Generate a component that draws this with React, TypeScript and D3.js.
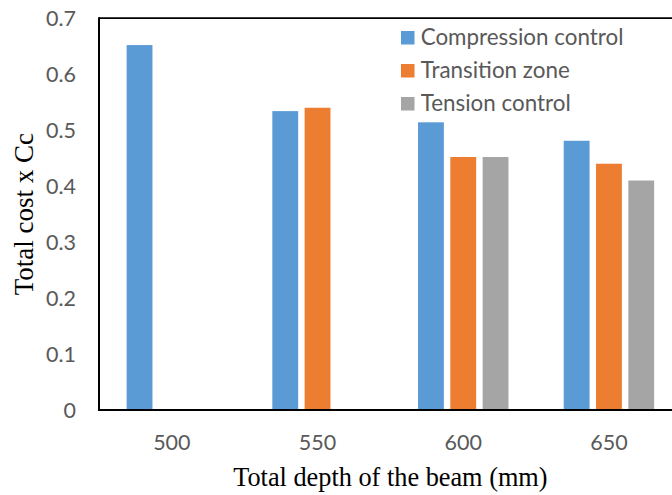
import React from "react";
import * as d3 from "d3";

const categories = ["500", "550", "600", "650"];
const seriesNames = ["Compression control", "Transition zone", "Tension control"];
const compression = [0.652, 0.534, 0.514, 0.481];
const transition = [null, 0.54, 0.452, 0.44];
const tension = [null, null, 0.452, 0.41];
const yTicks = [0, 0.1, 0.2, 0.3, 0.4, 0.5, 0.6, 0.7];
const colors = ["#5B9BD5", "#ED7D31", "#A5A5A5"];

const W = 672;
const H = 495;
const plot = { left: 99, top: 18.2, bottom: 410, step: 145.7 };
const labelFont = "Lato, 'Open Sans', sans-serif";
const titleFont = "'Liberation Serif', 'Times New Roman', serif";

export default function App() {
  const seriesValues = [compression, transition, tension];
  const x0 = d3
    .scaleBand<string>()
    .domain(categories)
    .range([plot.left, plot.left + plot.step * categories.length])
    .padding(0);
  const x1 = d3
    .scaleBand<string>()
    .domain(seriesNames)
    .range([-48.45, 48.45])
    .paddingInner(0.2)
    .paddingOuter(0.1);
  const y = d3.scaleLinear().domain([0, 0.7]).range([plot.bottom, plot.top]);

  const right = W + 20;

  return (
    <div style={{ position: "fixed", left: 0, top: 0 }}>
      <svg width={W} height={H} style={{ display: "block", background: "#fff" }}>
        {/* bars */}
        {categories.map((c, ci) => {
          const cx = (x0(c) as number) + x0.bandwidth() / 2;
          return seriesNames.map((s, si) => {
            const v = seriesValues[si][ci];
            if (v == null) return null;
            return (
              <rect
                key={c + s}
                x={cx + (x1(s) as number)}
                y={y(v)}
                width={x1.bandwidth()}
                height={y(0) - y(v)}
                fill={colors[si]}
              />
            );
          });
        })}

        {/* frame: top border, left axis, bottom axis */}
        <line x1={plot.left} x2={right} y1={plot.top} y2={plot.top} stroke="#000" strokeWidth={1.7} />
        <line x1={plot.left} x2={plot.left} y1={plot.top - 0.85} y2={plot.bottom + 1} stroke="#000" strokeWidth={2} />
        <line x1={plot.left - 1} x2={right} y1={plot.bottom} y2={plot.bottom} stroke="#000" strokeWidth={2} />

        {/* y tick labels */}
        {yTicks.map((t) => (
          <text
            key={t}
            x={76}
            y={y(t)}
            dy="0.36em"
            textAnchor="end"
            fontFamily={labelFont}
            fontSize={21.5}
            fill="#595959"
          >
            {d3.format("~g")(t)}
          </text>
        ))}

        {/* x tick labels */}
        {categories.map((c) => (
          <text
            key={c}
            x={(x0(c) as number) + x0.bandwidth() / 2}
            y={450}
            textAnchor="middle"
            fontFamily={labelFont}
            fontSize={21.5}
            fill="#595959"
          >
            {c}
          </text>
        ))}

        {/* axis titles */}
        <text
          x={(plot.left + plot.left + plot.step * 4) / 2}
          y={486}
          textAnchor="middle"
          fontFamily={titleFont}
          fontSize={26.3}
          fill="#000"
        >
          Total depth of the beam (mm)
        </text>
        <text
          transform={`translate(33,${(plot.top + plot.bottom) / 2}) rotate(-90)`}
          textAnchor="middle"
          fontFamily={titleFont}
          fontSize={27}
          fill="#000"
        >
          Total cost x Cc
        </text>

        {/* legend */}
        {seriesNames.map((s, i) => (
          <g key={s} transform={`translate(401,${31 + i * 33})`}>
            <rect width={13.5} height={13.5} fill={colors[i]} />
            <text x={19.7} y={14} fontFamily={labelFont} fontSize={22.4} fill="#595959">
              {s}
            </text>
          </g>
        ))}
      </svg>
    </div>
  );
}
